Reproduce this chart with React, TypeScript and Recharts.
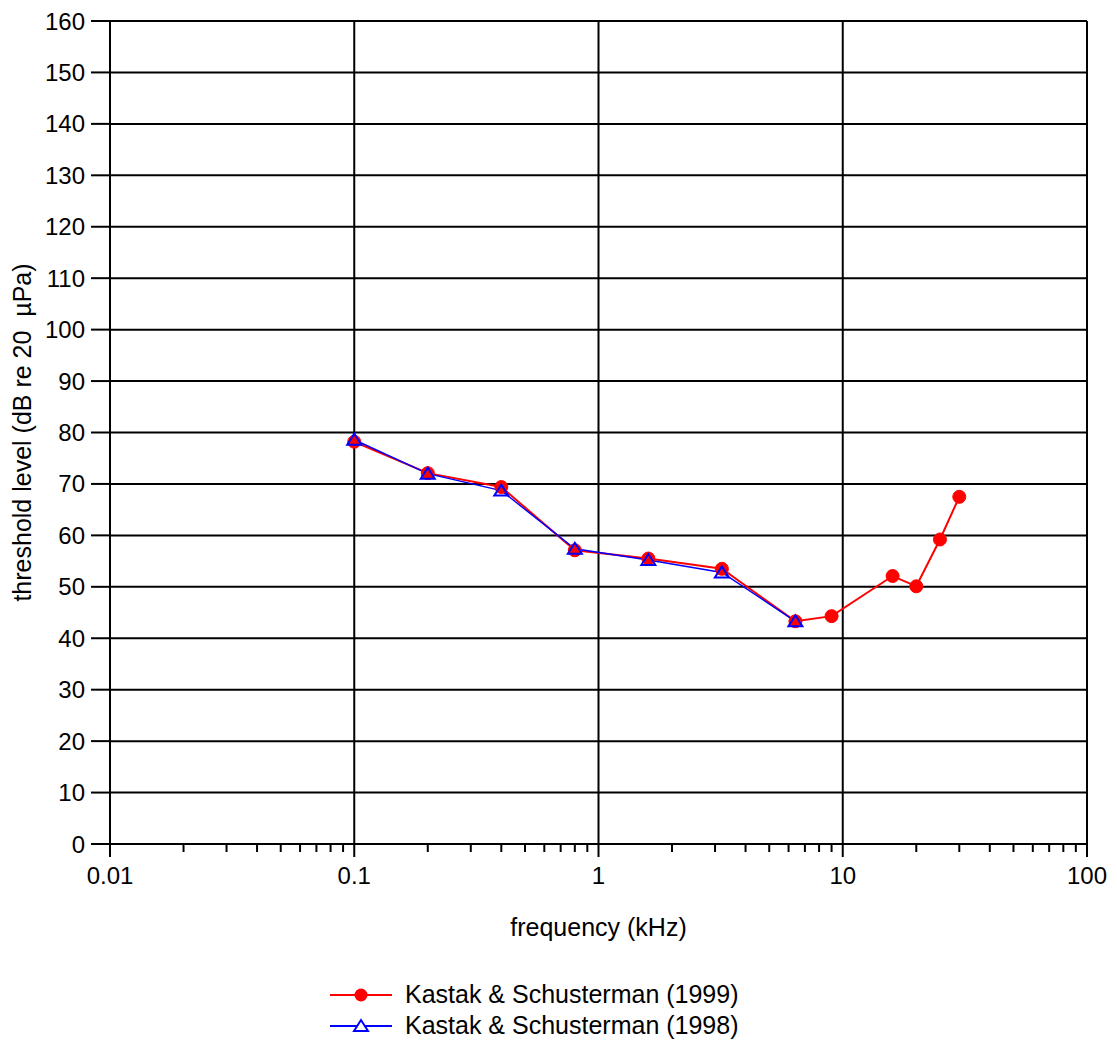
import React from "react";
import {
  LineChart, Line, XAxis, YAxis, CartesianGrid, ReferenceLine,
} from "recharts";

// Kastak & Schusterman (1999)
const freq1999 = [0.1, 0.2, 0.4, 0.8, 1.6, 3.2, 6.4, 9, 16, 20, 25, 30];
const thr1999 = [78.2, 72.1, 69.4, 57.1, 55.5, 53.5, 43.3, 44.3, 52.1, 50.1, 59.2, 67.5];

// Kastak & Schusterman (1998)
const freq1998 = [0.1, 0.2, 0.4, 0.8, 1.6, 3.2, 6.4];
const thr1998 = [78.6, 72.0, 68.7, 57.4, 55.2, 52.8, 43.3];

const xMajorTicks = [0.01, 0.1, 1, 10, 100];
const xMinorSteps = [2, 3, 4, 5, 6, 7, 8, 9];
const yTicks = [0, 10, 20, 30, 40, 50, 60, 70, 80, 90, 100, 110, 120, 130, 140, 150, 160];

const RED = "#ff0000";
const BLUE = "#0000ff";
const INK = "#000000";
const FONT = "'Liberation Sans', Arial, sans-serif";

const data1999 = freq1999.map((f, i) => ({ f, v: thr1999[i] }));
const data1998 = freq1998.map((f, i) => ({ f, v: thr1998[i] }));

const xTicks = [
  ...xMajorTicks,
  ...xMajorTicks.slice(0, -1).flatMap((d) => xMinorSteps.map((m) => d * m)),
].sort((a, b) => a - b);

const TICK_SIZE = 13;
const TICK_MARGIN = 10;

function FreqTick(props: any) {
  const { x, y, payload } = props;
  const major = xMajorTicks.includes(payload.value);
  const axisY = y - TICK_SIZE - TICK_MARGIN;
  return (
    <g>
      <line x1={x} x2={x} y1={axisY} y2={axisY + (major ? 13 : 8)} stroke={INK} strokeWidth={2} />
      {major && (
        <text x={x} y={y} dy={17} textAnchor="middle" fontSize={24} fontFamily={FONT} fill={INK}>
          {String(payload.value)}
        </text>
      )}
    </g>
  );
}

function Triangle(props: any) {
  const { cx, cy } = props;
  if (cx == null || cy == null) return null;
  return (
    <polygon
      points={`${cx - 7},${cy + 5} ${cx + 7},${cy + 5} ${cx},${cy - 6}`}
      fill="none"
      stroke={BLUE}
      strokeWidth={2}
    />
  );
}

function LegendRow({ color, label, marker }: { color: string; label: string; marker: "circle" | "triangle" }) {
  return (
    <div style={{ display: "flex", alignItems: "center", height: 31 }}>
      <svg width={64} height={20} style={{ marginRight: 11 }}>
        <line x1={0} x2={62} y1={10} y2={10} stroke={color} strokeWidth={2} />
        {marker === "circle" ? (
          <circle cx={31} cy={10} r={6.5} fill={color} />
        ) : (
          <polygon points="24,15 38,15 31,4" fill="white" stroke={color} strokeWidth={2} />
        )}
      </svg>
      <span style={{ fontSize: 25, fontFamily: FONT, color: INK, whiteSpace: "pre" }}>{label}</span>
    </div>
  );
}

export default function App() {
  return (
    <div style={{ position: "absolute", left: 0, top: 0, width: 1117, height: 1040, background: "#fff" }}>
      <LineChart
        width={1117}
        height={1040}
        margin={{ top: 21, right: 30, bottom: 0, left: 0 }}
      >
        <CartesianGrid vertical={false} stroke={INK} strokeWidth={2} />
        {xMajorTicks.map((t) => (
          <ReferenceLine key={t} x={t} stroke={INK} strokeWidth={2} />
        ))}
        <XAxis
          dataKey="f"
          type="number"
          scale="log"
          domain={[0.01, 100]}
          allowDataOverflow
          ticks={xTicks}
          interval={0}
          height={196}
          tickSize={TICK_SIZE}
          tickMargin={TICK_MARGIN}
          tickLine={false}
          axisLine={{ stroke: INK, strokeWidth: 2 }}
          tick={<FreqTick />}
          label={{
            value: "frequency (kHz)",
            position: "insideTop",
            offset: 74,
            fontSize: 25,
            fontFamily: FONT,
            fill: INK,
          }}
        />
        <YAxis
          type="number"
          domain={[0, 160]}
          ticks={yTicks}
          interval={0}
          width={110}
          tickSize={19}
          tickMargin={6}
          tickLine={{ stroke: INK, strokeWidth: 2 }}
          axisLine={{ stroke: INK, strokeWidth: 2 }}
          tick={{ fontSize: 24, fontFamily: FONT, fill: INK }}
          label={{
            value: "threshold level (dB re 20\u00A0 µPa)",
            angle: -90,
            position: "insideLeft",
            offset: 22,
            fontSize: 25,
            fontFamily: FONT,
            fill: INK,
            style: { textAnchor: "middle" },
          }}
        />
        <Line
          data={data1999}
          dataKey="v"
          type="linear"
          stroke={RED}
          strokeWidth={2}
          dot={{ r: 6.5, fill: RED, stroke: RED, strokeWidth: 1 }}
          isAnimationActive={false}
        />
        <Line
          data={data1998}
          dataKey="v"
          type="linear"
          stroke={BLUE}
          strokeWidth={1.5}
          dot={<Triangle />}
          isAnimationActive={false}
        />
      </LineChart>

      {/* Legend */}
      <div style={{ position: "absolute", left: 330, top: 979 }}>
        <LegendRow color={RED} label="Kastak & Schusterman (1999)" marker="circle" />
        <LegendRow color={BLUE} label="Kastak & Schusterman (1998)" marker="triangle" />
      </div>
    </div>
  );
}
